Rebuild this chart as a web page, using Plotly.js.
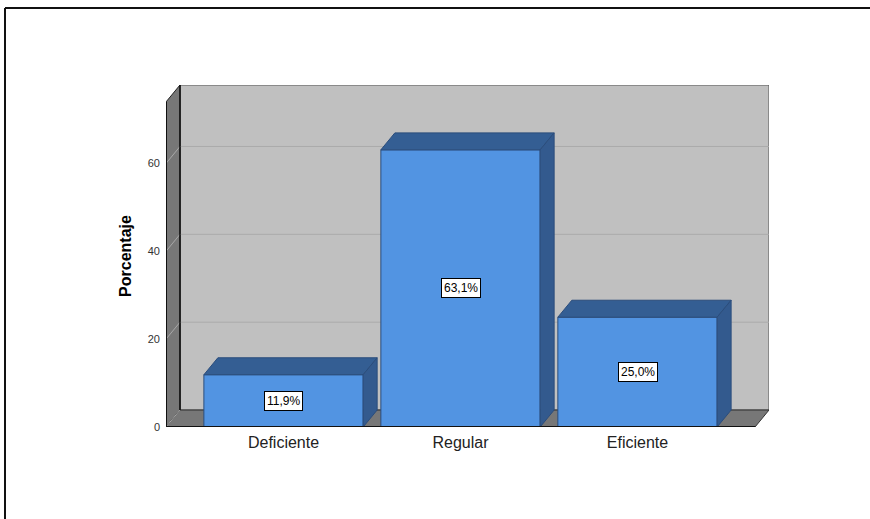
<!DOCTYPE html>
<html><head><meta charset="utf-8">
<script src="https://cdn.plot.ly/plotly-3.0.1.min.js"></script>
<style>
html,body{margin:0;padding:0;background:#fff;overflow:hidden;}
#chart{position:absolute;left:0;top:0;width:870px;height:519px;}
</style></head>
<body><div id="chart"></div>
<script>
const categories = ['Deficiente', 'Regular', 'Eficiente'];
const percentages = [11.9, 63.1, 25.0];
const valueLabels = ['11,9%', '63,1%', '25,0%'];
const yTickValues = [0, 20, 40, 60];
const yTickLabels = ['0', '20', '40', '60'];

// 3D look parameters (axis units)
const barWidth = 0.9;
const depthX = 0.079;
const depthY = 3.86;
const xMin = -0.664, xMax = 2.664;
const yFrontTop = 74;

const idx = categories.map((c, i) => i);
const font = 'Liberation Sans, Arial, sans-serif';

const shapes = [];
// outer frame (top and left edges only)
shapes.push({type:'line', layer:'above', xref:'paper', yref:'paper', x0:-0.267, x1:1.2, y0:1.2251, y1:1.2251, line:{color:'#111', width:2}});
shapes.push({type:'line', layer:'above', xref:'paper', yref:'paper', x0:-0.267, x1:-0.267, y0:1.2251, y1:-0.3, line:{color:'#111', width:2}});

shapes.push({type:'rect', layer:'below', xref:'x', yref:'y', x0:xMin+depthX, x1:xMax+depthX, y0:depthY, y1:yFrontTop+depthY,
  fillcolor:'#c0c0c0', line:{color:'#555', width:1}});
shapes.push({type:'path', layer:'below', xref:'x', yref:'y',
  path:`M ${xMin},0 L ${xMin+depthX},${depthY} L ${xMin+depthX},${yFrontTop+depthY} L ${xMin},${yFrontTop} Z`,
  fillcolor:'#777777', line:{color:'#222', width:1}});
shapes.push({type:'path', layer:'below', xref:'x', yref:'y',
  path:`M ${xMin},0 L ${xMax},0 L ${xMax+depthX},${depthY} L ${xMin+depthX},${depthY} Z`,
  fillcolor:'#777777', line:{color:'#333', width:1}});
yTickValues.forEach(t => {
  if (t > 0) shapes.push({type:'line', layer:'below', xref:'x', yref:'y', x0:xMin+depthX, x1:xMax+depthX, y0:t+depthY, y1:t+depthY,
    line:{color:'#aaaaaa', width:1}});
  shapes.push({type:'line', layer:'below', xref:'x', yref:'y', x0:xMin, x1:xMin+depthX, y0:t, y1:t+depthY,
    line:{color:'#a8a8a8', width:1}});
});
shapes.push({type:'line', layer:'below', xref:'x', yref:'y', x0:xMin+depthX, x1:xMin+depthX, y0:depthY, y1:yFrontTop+depthY,
  line:{color:'#111', width:1.5}});
shapes.push({type:'line', layer:'below', xref:'x', yref:'y', x0:xMin, x1:xMin, y0:0, y1:yFrontTop, line:{color:'#111', width:2}});
shapes.push({type:'line', layer:'above', xref:'x', yref:'y', x0:xMin, x1:xMax, y0:0, y1:0, line:{color:'#111', width:2}});

const traces = [];
traces.push({type:'bar', x:idx, y:percentages, width:barWidth, hoverinfo:'skip',
  marker:{color:'#5294e2', line:{color:'#2b4d7c', width:1}}});
idx.forEach((i, k) => {
  const v = percentages[k], a = i - barWidth/2, b = i + barWidth/2;
  traces.push({type:'scatter', mode:'lines', fill:'toself', fillcolor:'#345e93', hoverinfo:'skip',
    line:{color:'#2b4d7c', width:1},
    x:[a, a+depthX, b+depthX, b, a], y:[v, v+depthY, v+depthY, v, v]});
  traces.push({type:'scatter', mode:'lines', fill:'toself', fillcolor:'#335a8e', hoverinfo:'skip',
    line:{color:'#2b4d7c', width:1},
    x:[b, b+depthX, b+depthX, b, b], y:[0, depthY, v+depthY, v, 0]});
});

const annotations = idx.map((i, k) => ({
  x:i, y:percentages[k]/2, xref:'x', yref:'y', text:valueLabels[k], showarrow:false,
  bgcolor:'#ffffff', bordercolor:'#000', borderwidth:1, borderpad:2,
  font:{family:font, size:12, color:'#000'}
}));

const layout = {
  width:870, height:519,
  margin:{l:166, r:101, t:85, b:92, pad:0},
  paper_bgcolor:'#ffffff', plot_bgcolor:'rgba(0,0,0,0)',
  showlegend:false,
  xaxis:{range:[xMin, xMax+depthX], tickvals:idx, ticktext:categories, showgrid:false, zeroline:false,
    showline:false, ticks:'', ticklabelstandoff:4, tickfont:{family:font, size:16, color:'#222'}, fixedrange:true},
  yaxis:{range:[0, yFrontTop+depthY], tickvals:yTickValues, ticktext:yTickLabels, showgrid:false, zeroline:false,
    showline:false, ticks:'', ticklabelstandoff:5, tickfont:{family:font, size:11, color:'#333'},
    title:{text:'<b>Porcentaje</b>', standoff:12, font:{family:font, size:16, color:'#000'}}, fixedrange:true},
  shapes:shapes,
  annotations:annotations
};

Plotly.newPlot('chart', traces, layout, {displayModeBar:false, staticPlot:true});
</script>
</body></html>
